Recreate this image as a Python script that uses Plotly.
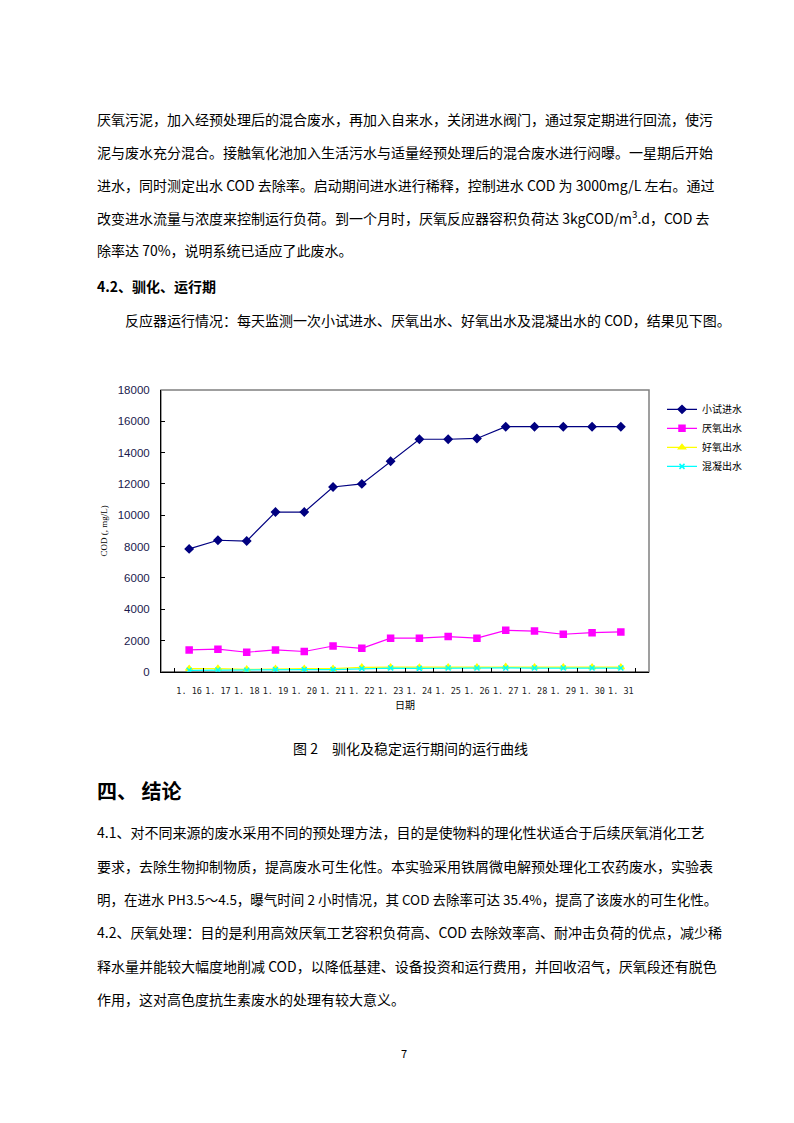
import plotly.graph_objects as go

W, H = 794, 1123
M = 8  # default body margin of the page

# ---------------- data ----------------
dates = ["1. 16", "1. 17", "1. 18", "1. 19", "1. 20", "1. 21", "1. 22", "1. 23",
         "1. 24", "1. 25", "1. 26", "1. 27", "1. 28", "1. 29", "1. 30", "1. 31"]
influent = [7850, 8400, 8350, 10200, 10200, 11800, 12000, 13450,
            14850, 14850, 14900, 15650, 15650, 15650, 15650, 15650]
anaerobic = [1400, 1450, 1250, 1400, 1300, 1650, 1500, 2150,
             2150, 2250, 2150, 2650, 2600, 2400, 2500, 2550]
aerobic = [200, 210, 160, 200, 200, 200, 290, 300,
           280, 300, 300, 320, 300, 300, 300, 300]
coag = [100, 120, 100, 140, 140, 140, 210, 240,
        220, 240, 240, 250, 240, 240, 240, 240]
series_names = ["小试进水", "厌氧出水", "好氧出水", "混凝出水"]
y_ticks = [0, 2000, 4000, 6000, 8000, 10000, 12000, 14000, 16000, 18000]

para1 = [
    "厌氧污泥，加入经预处理后的混合废水，再加入自来水，关闭进水阀门，通过泵定期进行回流，使污",
    "泥与废水充分混合。接触氧化池加入生活污水与适量经预处理后的混合废水进行闷曝。一星期后开始",
    "进水，同时测定出水 COD 去除率。启动期间进水进行稀释，控制进水 COD 为 3000mg/L 左右。通过",
    "改变进水流量与浓度来控制运行负荷。到一个月时，厌氧反应器容积负荷达 3kgCOD/m<sup>3</sup>.d，COD 去",
    "除率达 70%，说明系统已适应了此废水。",
]
heading42 = "4.2、驯化、运行期"
intro = "反应器运行情况：每天监测一次小试进水、厌氧出水、好氧出水及混凝出水的 COD，结果见下图。"
caption = "图 2　驯化及稳定运行期间的运行曲线"
heading4 = "四、 结论"
para2 = [
    "4.1、对不同来源的废水采用不同的预处理方法，目的是使物料的理化性状适合于后续厌氧消化工艺",
    "要求，去除生物抑制物质，提高废水可生化性。本实验采用铁屑微电解预处理化工农药废水，实验表",
    "明，在进水 PH3.5～4.5，曝气时间 2 小时情况，其 COD 去除率可达 35.4%，提高了该废水的可生化性。",
    "4.2、厌氧处理：目的是利用高效厌氧工艺容积负荷高、COD 去除效率高、耐冲击负荷的优点，减少稀",
    "释水量并能较大幅度地削减 COD，以降低基建、设备投资和运行费用，并回收沼气，厌氧段还有脱色",
    "作用，这对高色度抗生素废水的处理有较大意义。",
]
page_no = "7"

# ---------------- figure ----------------
FW, FH = W - M, H - M


def px(x):
    return (x - M) / FW


def py(y):
    return 1 - (y - M) / FH


fig = go.Figure()
styles = [
    dict(color="#000080", symbol="diamond", size=6),
    dict(color="#FF00FF", symbol="square", size=6),
    dict(color="#FFFF00", symbol="triangle-up", size=6),
    dict(color="#00FFFF", symbol="x-thin-open", size=5),
]
for name, vals, st in zip(series_names, [influent, anaerobic, aerobic, coag], styles):
    fig.add_trace(go.Scatter(
        x=dates, y=vals, name=name, mode="lines+markers",
        line=dict(color=st["color"], width=1.2),
        marker=dict(color=st["color"], symbol=st["symbol"], size=st["size"],
                    line=dict(color=st["color"], width=1.5)),
    ))

CJK = "Noto Sans CJK SC"
fig.update_layout(
    width=FW, height=FH,
    margin=dict(l=0, r=0, t=0, b=0),
    paper_bgcolor="white", plot_bgcolor="white",
    font=dict(family=CJK, color="black"),
    showlegend=True,
    legend=dict(x=px(662), y=py(393), xanchor="left", yanchor="top",
                font=dict(size=10, family=CJK), tracegroupgap=0,
                itemwidth=30, bgcolor="rgba(0,0,0,0)"),
    xaxis=dict(domain=[px(161), px(649)], type="category",
               showline=True, linecolor="black", linewidth=1, mirror=False,
               ticks="inside", ticklen=4, tickcolor="black", tickson="boundaries",
               showgrid=False, zeroline=False, tickangle=0, ticklabelstandoff=11,
               tickfont=dict(family="DejaVu Sans Mono", size=8.5, color="#222"),
               title=dict(text="日期", font=dict(size=10, family=CJK), standoff=6)),
    yaxis=dict(domain=[py(673), py(388)], range=[0, 18000],
               tickvals=y_ticks, tickformat="d",
               showline=True, linecolor="black", linewidth=1,
               ticks="inside", ticklen=4, tickcolor="black",
               showgrid=False, zeroline=False, ticklabelstandoff=8,
               tickfont=dict(family="Liberation Sans", size=11.5, color="#1a1a4d"),
               title=dict(text="COD (, mg/L)", font=dict(size=9, family="Liberation Serif"),
                          standoff=8)),
)

# plot-area border (top and right, gray)
fig.add_shape(type="rect", xref="paper", yref="paper",
              x0=px(161), x1=px(649), y0=py(673), y1=py(388),
              line=dict(color="#808080", width=1.5), layer="below")

# ---------------- document text ----------------
ann = []


def text(t, x, y, size=14, xanchor="left", bold=False):
    if bold:
        t = "<b>" + t + "</b>"
    ann.append(dict(text=t, x=px(x - 2), y=py(y), xref="paper", yref="paper",
                    xanchor=xanchor, yanchor="middle", showarrow=False,
                    font=dict(size=size, family=CJK, color="black")))


for t, y in zip(para1, [114, 148, 181, 214, 247]):
    text(t, 97, y, size=14)
text(heading42, 97, 283, size=14, bold=True)
text(intro, 125, 317, size=14)
text(caption, 413, 750, size=14, xanchor="center")
text(heading4, 97, 793, size=20, bold=True)
for i, (t, y) in enumerate(zip(para2, [835, 869, 903, 936, 970, 1004])):
    text(t, 97, y, size=13.5 if i == 2 else 14)
text(page_no, 406, 1058, size=11, xanchor="center")

fig.update_layout(annotations=ann)
fig.write_html("out.html")
